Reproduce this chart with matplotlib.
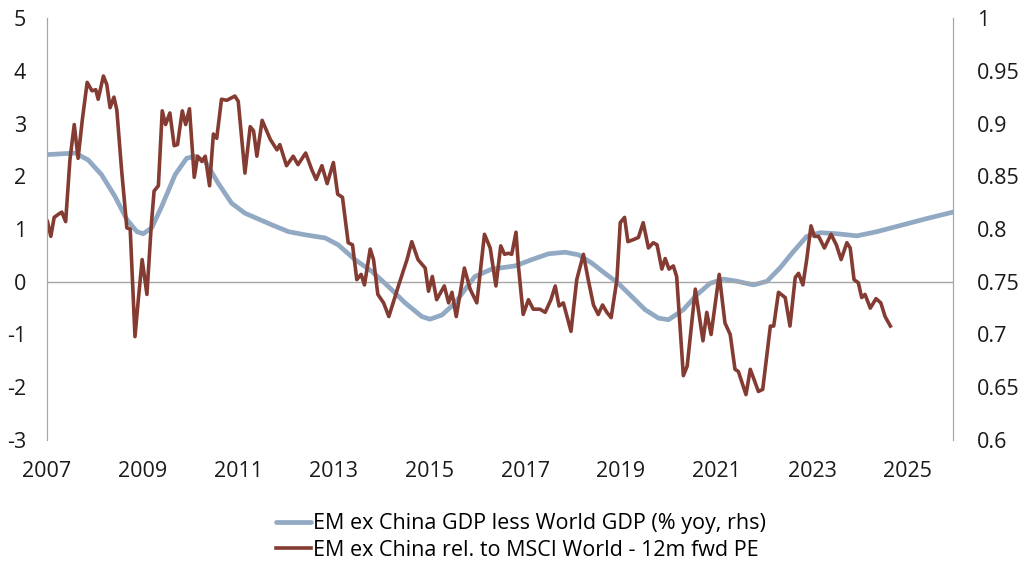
import matplotlib
matplotlib.use("Agg")
import matplotlib.pyplot as plt

plt.rcParams['font.family'] = ['Open Sans', 'DejaVu Sans']
plt.rcParams['axes.unicode_minus'] = False

# EM ex China GDP less World GDP (left scale)
gdp_years = [2007.00, 2007.59, 2007.86, 2008.14, 2008.42, 2008.67, 2008.88, 2009.01,
             2009.19, 2009.40, 2009.68, 2009.92, 2010.10, 2010.31, 2010.58, 2010.86,
             2011.14, 2011.42, 2011.70, 2012.05, 2012.40, 2012.82, 2013.09, 2013.44,
             2013.79, 2014.14, 2014.49, 2014.84, 2015.01, 2015.26, 2015.54, 2015.74,
             2015.95, 2016.30, 2016.79, 2017.14, 2017.49, 2017.84, 2018.12, 2018.40,
             2018.67, 2018.95, 2019.23, 2019.51, 2019.79, 2020.00, 2020.31, 2020.59,
             2020.87, 2021.15, 2021.43, 2021.78, 2022.06, 2022.33, 2022.61, 2022.89,
             2023.17, 2023.52, 2023.94, 2024.36, 2024.74, 2025.41, 2025.95]
gdp_diff = [2.41, 2.44, 2.31, 2.03, 1.62, 1.18, 0.95, 0.91,
            1.02, 1.43, 2.03, 2.34, 2.38, 2.28, 1.87, 1.49,
            1.30, 1.19, 1.08, 0.95, 0.89, 0.83, 0.70, 0.42,
            0.20, -0.09, -0.40, -0.66, -0.71, -0.63, -0.40, -0.15,
            0.10, 0.24, 0.30, 0.42, 0.53, 0.56, 0.51, 0.35,
            0.16, -0.03, -0.28, -0.53, -0.69, -0.72, -0.53, -0.25,
            -0.03, 0.05, 0.01, -0.06, 0.01, 0.26, 0.57, 0.86,
            0.93, 0.91, 0.87, 0.95, 1.04, 1.20, 1.32]

# EM ex China rel. to MSCI World - 12m fwd PE (right scale)
pe_years = [2007.01, 2007.08, 2007.15, 2007.24, 2007.31, 2007.39, 2007.48, 2007.57,
            2007.65, 2007.74, 2007.84, 2007.94, 2008.02, 2008.07, 2008.18, 2008.25,
            2008.32, 2008.40, 2008.46, 2008.56, 2008.67, 2008.74, 2008.84, 2008.91,
            2008.99, 2009.09, 2009.18, 2009.24, 2009.33, 2009.41, 2009.48, 2009.57,
            2009.66, 2009.73, 2009.83, 2009.90, 2009.98, 2010.08, 2010.15, 2010.24,
            2010.31, 2010.40, 2010.48, 2010.55, 2010.65, 2010.76, 2010.93, 2011.00,
            2011.14, 2011.25, 2011.32, 2011.39, 2011.50, 2011.67, 2011.81, 2011.87,
            2012.01, 2012.15, 2012.25, 2012.41, 2012.54, 2012.63, 2012.75, 2012.86,
            2012.99, 2013.08, 2013.18, 2013.30, 2013.39, 2013.48, 2013.57, 2013.64,
            2013.76, 2013.83, 2013.92, 2014.04, 2014.15, 2014.35, 2014.53, 2014.63,
            2014.76, 2014.91, 2014.98, 2015.06, 2015.15, 2015.31, 2015.40, 2015.47,
            2015.56, 2015.73, 2015.85, 2015.99, 2016.15, 2016.27, 2016.39, 2016.49,
            2016.57, 2016.65, 2016.72, 2016.81, 2016.86, 2016.96, 2017.07, 2017.17,
            2017.31, 2017.42, 2017.54, 2017.63, 2017.71, 2017.80, 2017.96, 2018.08,
            2018.22, 2018.32, 2018.43, 2018.53, 2018.62, 2018.71, 2018.80, 2018.92,
            2018.99, 2019.08, 2019.15, 2019.27, 2019.37, 2019.47, 2019.58, 2019.68,
            2019.76, 2019.86, 2019.93, 2020.01, 2020.10, 2020.17, 2020.31, 2020.39,
            2020.56, 2020.72, 2020.80, 2020.89, 2021.06, 2021.18, 2021.29, 2021.39,
            2021.46, 2021.62, 2021.71, 2021.88, 2021.97, 2022.13, 2022.20, 2022.30,
            2022.44, 2022.54, 2022.65, 2022.72, 2022.81, 2022.89, 2022.98, 2023.05,
            2023.14, 2023.26, 2023.40, 2023.51, 2023.61, 2023.73, 2023.80, 2023.88,
            2023.97, 2024.04, 2024.11, 2024.22, 2024.34, 2024.44, 2024.53, 2024.64]
pe_rel = [0.807, 0.793, 0.811, 0.814, 0.816, 0.807, 0.866, 0.899,
          0.867, 0.904, 0.939, 0.931, 0.932, 0.923, 0.945, 0.937,
          0.915, 0.925, 0.913, 0.856, 0.801, 0.800, 0.698, 0.733,
          0.771, 0.738, 0.803, 0.836, 0.841, 0.912, 0.899, 0.910,
          0.879, 0.880, 0.912, 0.899, 0.914, 0.849, 0.869, 0.864,
          0.869, 0.841, 0.890, 0.886, 0.923, 0.922, 0.926, 0.921,
          0.853, 0.897, 0.893, 0.869, 0.903, 0.885, 0.875, 0.880,
          0.860, 0.869, 0.861, 0.872, 0.856, 0.847, 0.860, 0.843,
          0.863, 0.833, 0.830, 0.787, 0.785, 0.752, 0.757, 0.747,
          0.781, 0.771, 0.738, 0.730, 0.717, 0.746, 0.771, 0.788,
          0.771, 0.763, 0.741, 0.755, 0.733, 0.746, 0.730, 0.740,
          0.717, 0.763, 0.743, 0.730, 0.795, 0.782, 0.746, 0.784,
          0.776, 0.777, 0.776, 0.797, 0.765, 0.719, 0.733, 0.724,
          0.724, 0.721, 0.733, 0.746, 0.727, 0.730, 0.703, 0.752,
          0.776, 0.752, 0.728, 0.719, 0.728, 0.721, 0.716, 0.752,
          0.806, 0.811, 0.788, 0.790, 0.792, 0.806, 0.782, 0.787,
          0.785, 0.762, 0.772, 0.762, 0.765, 0.755, 0.661, 0.670,
          0.743, 0.694, 0.721, 0.700, 0.757, 0.711, 0.700, 0.667,
          0.665, 0.643, 0.667, 0.646, 0.648, 0.708, 0.708, 0.740,
          0.735, 0.708, 0.754, 0.758, 0.747, 0.771, 0.803, 0.793,
          0.793, 0.782, 0.795, 0.785, 0.771, 0.787, 0.782, 0.752,
          0.749, 0.735, 0.738, 0.725, 0.734, 0.730, 0.717, 0.708]

year_ticks = [2007, 2009, 2011, 2013, 2015, 2017, 2019, 2021, 2023, 2025]

blue = '#91a9c3'
brown = '#843b31'
grey = '#a6a6a6'

fig = plt.figure(figsize=(10.24, 5.74), dpi=100)
ax = fig.add_axes([47 / 1024, 1 - 440 / 574, 906 / 1024, 422 / 574])
ax2 = ax.twinx()

l1, = ax.plot(gdp_years, gdp_diff, color=blue, lw=3.4, solid_capstyle='round')
l2, = ax2.plot(pe_years, pe_rel, color=brown, lw=2.6, solid_joinstyle='round')
ax.axhline(0, color=grey, lw=1)

ax.set_xlim(2007, 2025.95)
ax.set_ylim(-3, 5)
ax2.set_ylim(0.6, 1.0)
ax.set_yticks(range(-3, 6))
ax2.set_yticks([0.6, 0.65, 0.7, 0.75, 0.8, 0.85, 0.9, 0.95, 1.0])
ax2.set_yticklabels(['0.6', '0.65', '0.7', '0.75', '0.8', '0.85', '0.9', '0.95', '1'])
ax.set_xticks(year_ticks)
ax.set_xticklabels([str(y) for y in year_ticks])

for a in (ax, ax2):
    a.spines['top'].set_visible(False)
    a.spines['bottom'].set_visible(False)
    a.spines['left'].set_color(grey)
    a.spines['right'].set_color(grey)
    a.tick_params(length=0, labelsize=15.5, colors='#1a1a1a')
ax.tick_params(axis='y', pad=15)
ax2.tick_params(axis='y', pad=17)
ax.tick_params(axis='x', pad=15)

fig.legend([l1, l2],
           ['EM ex China GDP less World GDP (% yoy, rhs)',
            'EM ex China rel. to MSCI World - 12m fwd PE'],
           loc='center', bbox_to_anchor=(521 / 1024, 1 - 537 / 574),
           frameon=False, fontsize=15.5, handlelength=1.6, handletextpad=0.1,
           labelspacing=0.25)

fig.savefig('out.png', dpi=100)
